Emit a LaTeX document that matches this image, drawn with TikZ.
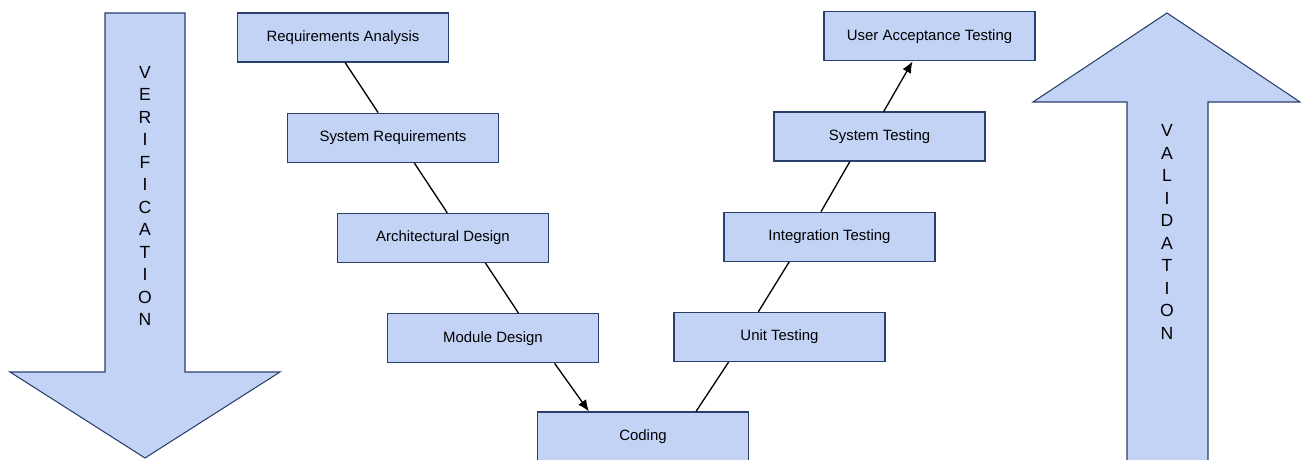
\documentclass[tikz,border=0pt]{standalone}
\usepackage{fontspec}
\setmainfont{Liberation Sans}
\usetikzlibrary{positioning, arrows.meta, calc}

\definecolor{boxfill}{HTML}{C3D3F6}
\definecolor{boxline}{HTML}{2A3F6C}

\begin{document}
\begin{tikzpicture}[
    stage/.style={
        rectangle,
        draw=boxline,
        fill=boxfill,
        minimum width=4.22cm,
        minimum height=0.98cm,
        align=center,
        line width=0.7pt,
        font=\fontsize{8.5}{10}\selectfont
    },
    bigarrow/.style={
        draw=boxline,
        fill=boxfill,
        line width=0.6pt,
        line join=miter
    },
    spelled/.style={
        align=center,
        font=\fontsize{10}{12.8}\selectfont
    },
    link/.style={
        line width=0.75pt,
        color=black
    },
    linkarrow/.style={
        -{Latex[length=6.5pt,width=5.5pt]},
        line width=0.75pt,
        color=black
    }
]

\useasboundingbox (0,0) rectangle (26.02,9.18);
\clip (0,0) rectangle (26.02,9.18);

% Verification arrow (pointing down)
\draw[bigarrow] (2.10,8.92) -- (3.70,8.92) -- (3.70,1.74) -- (5.60,1.74)
    -- (2.90,0.02) -- (0.20,1.74) -- (2.10,1.74) -- cycle;
\node[spelled] (verif) at (2.90,5.26) {V\\E\\R\\I\\F\\I\\C\\A\\T\\I\\O\\N};

% Validation arrow (pointing up)
\draw[bigarrow] (22.54,-0.2) -- (22.54,7.14) -- (20.66,7.14) -- (23.34,8.92)
    -- (26.00,7.14) -- (24.16,7.14) -- (24.16,-0.2);
\node[spelled] (valid) at (23.34,4.54) {V\\A\\L\\I\\D\\A\\T\\I\\O\\N};

% Left branch
\node[stage] (ra) at (6.86,8.43) {Requirements Analysis};
\node[stage, below=1.0cm of ra, xshift=1cm] (sr) {System Requirements};
\node[stage, below=1.0cm of sr, xshift=1cm] (ad) {Architectural Design};
\node[stage, below=1.0cm of ad, xshift=1cm] (md) {Module Design};

% Bottom
\node[stage] (coding) at (12.86,0.45) {Coding};

% Right branch
\node[stage] (ut) at (15.59,2.44) {Unit Testing};
\node[stage, above=1.0cm of ut, xshift=1cm] (it) {Integration Testing};
\node[stage, above=1.0cm of it, xshift=1cm] (st) {System Testing};
\node[stage, above=1.0cm of st, xshift=1cm] (uat) {User Acceptance Testing};

% Down the left side
\draw[link] ($(ra.south west)!.51!(ra.south east)$) -- ($(sr.north west)!.43!(sr.north east)$);
\draw[link] ($(sr.south west)!.60!(sr.south east)$) -- ($(ad.north west)!.52!(ad.north east)$);
\draw[link] ($(ad.south west)!.70!(ad.south east)$) -- ($(md.north west)!.62!(md.north east)$);
\draw[linkarrow] ($(md.south west)!.79!(md.south east)$) -- ($(coding.north west)!.245!(coding.north east)$);

% Up the right side
\draw[link] ($(coding.north west)!.75!(coding.north east)$) -- ($(ut.south west)!.26!(ut.south east)$);
\draw[link] ($(ut.north west)!.40!(ut.north east)$) -- ($(it.south west)!.31!(it.south east)$);
\draw[link] ($(it.north west)!.46!(it.north east)$) -- ($(st.south west)!.36!(st.south east)$);
\draw[linkarrow] ($(st.north west)!.52!(st.north east)$) -- ($(uat.south west)!.42!(uat.south east)$);

\end{tikzpicture}
\end{document}
